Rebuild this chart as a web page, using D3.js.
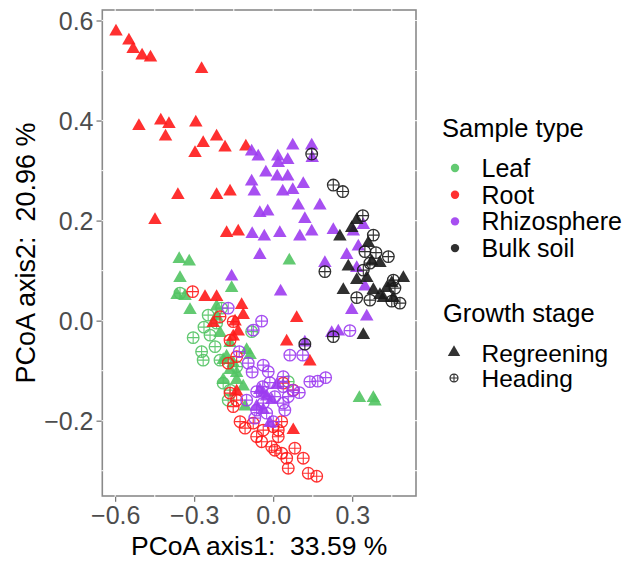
<!DOCTYPE html>
<html>
<head>
<meta charset="utf-8">
<script src="https://cdn.jsdelivr.net/npm/d3@7"></script>
<style>
  html, body { margin: 0; padding: 0; background: #fff; }
  svg { display: block; font-family: "Liberation Sans", Arial, sans-serif; }
  text { white-space: pre; }
</style>
</head>
<body>
<svg id="chart" width="633" height="562"></svg>
<script>
// ---- Data (PCoA axis1, axis2) ----
const sampleTypes = ["Leaf", "Root", "Rhizosphere", "Bulk soil"];
const stages = ["Regreening", "Heading"];
const xTicks = [-0.6, -0.3, 0.0, 0.3];
const yTicks = [-0.2, 0.0, 0.2, 0.4, 0.6];

const leafRegreening = [
  [-0.357,0.123],[-0.319,0.118],[-0.354,0.085],[-0.158,0.065],[0.061,0.120],[-0.365,0.051],
  [-0.335,0.049],[-0.316,0.021],[-0.215,0.028],[-0.202,-0.025],[-0.164,-0.045],[-0.101,-0.059],
  [-0.088,-0.069],[-0.190,-0.079],[-0.164,-0.099],[-0.139,-0.105],[-0.190,-0.119],[-0.114,-0.132],
  [-0.107,-0.172],[0.327,-0.155],[0.380,-0.155],[0.386,-0.162],[-0.215,0.008],[-0.177,-0.072],
  [-0.152,-0.085],[-0.139,-0.119]
];
const leafHeading = [
  [-0.304,-0.034],[-0.263,-0.013],[-0.247,0.011],[-0.272,-0.062],[-0.266,-0.079],[-0.221,-0.052],
  [-0.240,-0.029],[-0.202,-0.079],[-0.190,-0.125],[-0.164,-0.139],[-0.171,-0.159],[-0.215,-0.005],
  [-0.082,-0.022],[-0.139,-0.092],[0.057,-0.122],[-0.196,0.025],[-0.354,0.055]
];
const rootRegreening = [
  [-0.597,0.578],[-0.548,0.560],[-0.532,0.543],[-0.498,0.530],[-0.466,0.526],[-0.272,0.503],
  [-0.510,0.389],[-0.427,0.400],[-0.396,0.393],[-0.409,0.368],[-0.294,0.396],[-0.266,0.355],
  [-0.297,0.335],[-0.215,0.368],[-0.183,0.346],[-0.104,0.348],[-0.362,0.251],[-0.215,0.251],
  [-0.164,0.258],[-0.449,0.201],[-0.177,0.175],[-0.133,0.178],[-0.259,0.047],[-0.215,0.047],
  [-0.120,0.031],[-0.114,0.011],[-0.145,-0.002],[-0.228,-0.005],[-0.133,-0.022],[0.089,0.005],
  [0.051,-0.042],[0.139,-0.082],[0.076,-0.219],[-0.139,-0.142],[-0.152,-0.032]
];
const rootHeading = [
  [-0.306,0.058],[-0.202,0.008],[-0.152,-0.002],[-0.164,-0.039],[-0.139,-0.072],[-0.171,-0.085],
  [0.038,-0.125],[0.076,-0.139],[-0.164,-0.145],[-0.139,-0.159],[-0.152,-0.172],[-0.126,-0.202],
  [-0.107,-0.215],[-0.076,-0.205],[-0.063,-0.232],[-0.044,-0.242],[0.000,-0.212],[0.032,-0.202],
  [0.019,-0.232],[0.019,-0.219],[0.006,-0.259],[0.032,-0.265],[0.051,-0.275],[0.082,-0.255],
  [0.057,-0.295],[0.114,-0.275],[0.133,-0.305],[0.165,-0.311],[-0.006,-0.252],[-0.038,-0.219]
];
const rhizoRegreening = [
  [-0.082,0.338],[-0.057,0.328],[0.017,0.328],[0.019,0.315],[0.055,0.321],[0.074,0.350],
  [0.146,0.350],[0.148,0.325],[-0.028,0.296],[0.015,0.288],[0.055,0.288],[0.114,0.273],
  [-0.082,0.278],[-0.072,0.258],[0.036,0.258],[0.074,0.261],[-0.051,0.215],[-0.021,0.218],
  [0.095,0.230],[0.177,0.230],[0.120,0.203],[-0.080,0.173],[-0.034,0.168],[0.025,0.175],
  [0.101,0.168],[0.146,0.178],[-0.051,0.131],[0.228,0.181],[0.304,0.178],[0.342,0.191],
  [0.323,0.148],[0.279,0.131],[0.196,0.115],[0.317,0.105],[-0.158,0.088],[0.028,0.058],
  [0.348,0.068],[0.298,0.021],[0.355,0.008],[0.222,-0.025],[0.247,-0.022],[0.120,-0.044],
  [-0.051,-0.139],[-0.025,-0.152],[-0.063,-0.172],[-0.038,-0.179],[-0.006,-0.159],[0.013,-0.129],
  [-0.013,-0.205],[-0.038,-0.145]
];
const rhizoHeading = [
  [0.291,-0.020],[-0.171,0.025],[-0.044,-0.001],[-0.076,-0.019],[-0.129,-0.062],[0.063,-0.069],
  [0.112,-0.069],[-0.095,-0.085],[-0.038,-0.089],[-0.019,-0.102],[-0.080,-0.103],[0.038,-0.112],
  [0.139,-0.122],[0.169,-0.121],[0.199,-0.114],[-0.013,-0.124],[-0.040,-0.132],[-0.063,-0.142],
  [0.038,-0.132],[0.074,-0.139],[0.099,-0.144],[0.006,-0.152],[0.057,-0.152],[-0.038,-0.165],
  [0.038,-0.165],[-0.063,-0.179],[-0.025,-0.185],[0.044,-0.179],[-0.070,-0.195],[0.000,-0.202],
  [-0.101,-0.159]
];
const bulkRegreening = [
  [0.253,0.168],[0.298,0.185],[0.317,0.201],[0.285,0.108],[0.361,0.155],[0.374,0.118],
  [0.405,0.115],[0.317,0.081],[0.355,0.085],[0.266,0.061],[0.380,0.061],[0.405,0.051],
  [0.418,0.045],[0.456,0.045],[0.494,0.085],[0.342,-0.029],[0.431,0.065],[0.450,0.075]
];
const bulkHeading = [
  [0.146,0.333],[0.228,0.271],[0.264,0.258],[0.340,0.210],[0.380,0.171],[0.390,0.136],
  [0.437,0.128],[0.367,0.115],[0.342,0.101],[0.196,0.098],[0.456,0.081],[0.462,0.065],
  [0.317,0.046],[0.367,0.041],[0.481,0.035],[0.450,0.039],[0.228,-0.032],[0.120,-0.047],
  [0.348,0.138]
];

const colors = { "Leaf": "#52c463", "Root": "#ff1a1a", "Rhizosphere": "#9d3cf0", "Bulk soil": "#1a1a1a" };

const groups = [
  { type: "Leaf", stage: "Regreening", pts: leafRegreening },
  { type: "Leaf", stage: "Heading", pts: leafHeading },
  { type: "Root", stage: "Regreening", pts: rootRegreening },
  { type: "Root", stage: "Heading", pts: rootHeading },
  { type: "Rhizosphere", stage: "Regreening", pts: rhizoRegreening },
  { type: "Rhizosphere", stage: "Heading", pts: rhizoHeading },
  { type: "Bulk soil", stage: "Regreening", pts: bulkRegreening },
  { type: "Bulk soil", stage: "Heading", pts: bulkHeading }
];

// ---- Layout ----
const svg = d3.select("#chart");
const panel = { left: 102.3, right: 416, top: 10, bottom: 496 };
const x = d3.scaleLinear().domain([-0.649, 0.542]).range([panel.left, panel.right]);
const y = d3.scaleLinear().domain([-0.3506, 0.621]).range([panel.bottom, panel.top]);

// Panel border
svg.append("rect")
  .attr("x", panel.left).attr("y", panel.top)
  .attr("width", panel.right - panel.left).attr("height", panel.bottom - panel.top)
  .attr("fill", "none").attr("stroke", "#8a8a8a").attr("stroke-width", 1.6);

// white grid marks crossing the border (as in the reference)
const xGrid = [-0.6, -0.45, -0.3, -0.15, 0, 0.15, 0.3, 0.45];
const yGrid = [-0.3, -0.2, -0.1, 0, 0.1, 0.2, 0.3, 0.4, 0.5, 0.6];
const gridG = svg.append("g").attr("stroke", "#f2f2f2").attr("stroke-width", 1.2);
xGrid.forEach(v => {
  gridG.append("line").attr("x1", x(v)).attr("x2", x(v)).attr("y1", panel.top - 1).attr("y2", panel.top + 1);
  gridG.append("line").attr("x1", x(v)).attr("x2", x(v)).attr("y1", panel.bottom - 1).attr("y2", panel.bottom + 1);
});
yGrid.forEach(v => {
  gridG.append("line").attr("y1", y(v)).attr("y2", y(v)).attr("x1", panel.left - 1).attr("x2", panel.left + 1);
  gridG.append("line").attr("y1", y(v)).attr("y2", y(v)).attr("x1", panel.right - 1).attr("x2", panel.right + 1);
});

// Axes
const fmt = d3.format(".1f");
const minusFmt = v => fmt(v).replace("-", "\u2212");
const xAxis = svg.append("g").attr("transform", `translate(0,${panel.bottom + 0.8})`)
  .call(d3.axisBottom(x).tickValues(xTicks).tickFormat(minusFmt).tickSize(5).tickPadding(4));
const yAxis = svg.append("g").attr("transform", `translate(${panel.left - 0.8},0)`)
  .call(d3.axisLeft(y).tickValues(yTicks).tickFormat(minusFmt).tickSize(5).tickPadding(3));
[xAxis, yAxis].forEach(a => {
  a.select(".domain").remove();
  a.selectAll(".tick line").attr("stroke", "#555").attr("stroke-width", 1);
  a.selectAll(".tick text").attr("fill", "#4d4d4d").style("font-size", "25px")
    .style("font-family", "'Liberation Sans', Arial, sans-serif");
});
yAxis.selectAll(".tick text").attr("dy", "0.36em");

// Axis titles
svg.append("text").attr("x", (panel.left + panel.right) / 2).attr("y", 555)
  .attr("text-anchor", "middle").style("font-size", "26.5px").attr("fill", "#000")
  .text("PCoA axis1:\u00a0\u00a033.59 %");
svg.append("text").attr("transform", `translate(35,${(panel.top + panel.bottom) / 2}) rotate(-90)`)
  .attr("text-anchor", "middle").style("font-size", "27px").attr("fill", "#000")
  .text("PCoA axis2:\u00a0\u00a020.96 %");

// Symbols
const triSide = 13.5;
function triPath(s) {
  const h = s * Math.sqrt(3) / 2;
  return `M0,${-2 * h / 3}L${s / 2},${h / 3}L${-s / 2},${h / 3}Z`;
}
function drawMarker(g, stage, color, scale) {
  if (stage === "Regreening") {
    g.append("path").attr("d", triPath(triSide * scale)).attr("fill", color);
  } else {
    const r = 5.8 * scale;
    g.append("circle").attr("r", r).attr("fill", "none").attr("stroke", color).attr("stroke-width", 1.3);
    g.append("path").attr("d", `M${-r},0H${r}M0,${-r}V${r}`).attr("stroke", color).attr("stroke-width", 1.1);
  }
}

const pointsG = svg.append("g");
groups.forEach(gp => {
  gp.pts.forEach(p => {
    const g = pointsG.append("g")
      .attr("transform", `translate(${x(p[0])},${y(p[1])})`)
      .attr("opacity", 0.9);
    drawMarker(g, gp.stage, colors[gp.type], 1);
  });
});

// Legends
const leg = svg.append("g");
leg.append("text").attr("x", 442).attr("y", 137).style("font-size", "25.5px").text("Sample type");
sampleTypes.forEach((t, i) => {
  const cy = 168 + i * 26.7;
  leg.append("circle").attr("cx", 455).attr("cy", cy).attr("r", 4.2).attr("fill", colors[t]).attr("opacity", 0.9);
  leg.append("text").attr("x", 481.5).attr("y", cy + 9).style("font-size", "25px").text(t);
});
leg.append("text").attr("x", 443).attr("y", 322).style("font-size", "25.5px").text("Growth stage");
stages.forEach((s, i) => {
  const cy = 352.5 + i * 25.5;
  const g = leg.append("g").attr("transform", `translate(454,${cy})`);
  drawMarker(g, s, "#333", s === "Regreening" ? 0.92 : 0.68);
  leg.append("text").attr("x", 481.5).attr("y", cy + 9).style("font-size", "24.5px").text(s);
});
</script>
</body>
</html>
